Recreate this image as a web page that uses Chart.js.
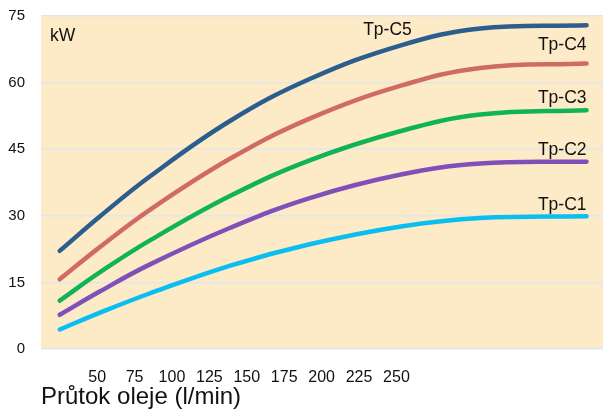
<!DOCTYPE html>
<html>
<head>
<meta charset="utf-8">
<script src="https://cdn.jsdelivr.net/npm/chart.js@4/dist/chart.umd.min.js"></script>
<style>
    html, body { margin: 0; padding: 0; background: #ffffff; }
    #wrap { width: 603px; height: 410px; position: relative; }
</style>
</head>
<body>
<div id="wrap"><canvas id="powerChart" width="603" height="410"></canvas></div>
<script>
    "use strict";

    // oil flow (l/min) at which the curves were read
    var flowRates = [25, 52, 85, 139, 192, 253, 306, 377];

    // power (kW) per cooler type
    var tpC1 = [4.4, 8.2, 12.5, 18.8, 23.6, 27.6, 29.5, 29.9];
    var tpC2 = [7.7, 13.0, 19.0, 27.3, 34.0, 39.3, 41.8, 42.2];
    var tpC3 = [10.9, 17.3, 24.4, 34.5, 42.5, 49.1, 52.8, 53.8];
    var tpC4 = [15.7, 23.0, 31.3, 42.9, 51.9, 59.3, 63.3, 64.3];
    var tpC5 = [22.1, 29.9, 38.8, 51.4, 60.8, 68.4, 72.2, 72.9];

    var seriesNames = ['Tp-C1', 'Tp-C2', 'Tp-C3', 'Tp-C4', 'Tp-C5'];
    var xTickValues = [50, 75, 100, 125, 150, 175, 200, 225, 250];
    var yTickValues = [0, 15, 30, 45, 60, 75];

    var FONT = '"Liberation Sans", Arial, Helvetica, sans-serif';
    var colors = ['#0BBEF0', '#8050B8', '#10B457', '#D06B63', '#2B5D8E'];

    function toPoints(values) {
        return values.map(function (v, i) {
            return { x: flowRates[i], y: v };
        });
    }

    var seriesValues = [tpC1, tpC2, tpC3, tpC4, tpC5];
    var datasets = seriesValues.map(function (values, i) {
        return {
            label: seriesNames[i],
            data: toPoints(values),
            borderColor: colors[i],
            borderWidth: 4.5,
            borderCapStyle: 'round',
            pointRadius: 0,
            tension: 0.4,
            fill: false
        };
    });

    // peach plot background
    var plotBackground = {
        id: 'plotBackground',
        beforeDraw: function (chart) {
            var a = chart.chartArea;
            var ctx = chart.ctx;
            ctx.save();
            ctx.fillStyle = '#FDEBC7';
            ctx.fillRect(a.left, a.top, a.right - a.left, a.bottom - a.top);
            ctx.restore();
        }
    };

    // series names near the curves + unit label
    var curveLabels = {
        id: 'curveLabels',
        afterDatasetsDraw: function (chart) {
            var ctx = chart.ctx;
            var xs = chart.scales.x;
            var ys = chart.scales.y;
            var lift = [11, 11, 12, 18];
            ctx.save();
            ctx.fillStyle = '#111111';
            ctx.font = '17.5px ' + FONT;
            ctx.textBaseline = 'middle';

            for (var i = 0; i < 4; i++) {
                var pts = chart.getDatasetMeta(i).data;
                var last = pts[pts.length - 1];
                ctx.textAlign = 'right';
                ctx.fillText(seriesNames[i], last.x, last.y - lift[i]);
            }
            // Tp-C5 sits above the rising part of its curve
            ctx.textAlign = 'center';
            ctx.fillText(seriesNames[4], xs.getPixelForValue(244), ys.getPixelForValue(71.9));

            ctx.textAlign = 'left';
            ctx.fillText('kW', chart.chartArea.left + 9, ys.getPixelForValue(70.5));
            ctx.restore();
        }
    };

    new Chart(document.getElementById('powerChart').getContext('2d'), {
        type: 'line',
        data: { datasets: datasets },
        plugins: [plotBackground, curveLabels],
        options: {
            responsive: false,
            animation: false,
            layout: { padding: { left: 8, top: 16, right: 0, bottom: 1 } },
            plugins: {
                legend: { display: false },
                tooltip: { enabled: false }
            },
            scales: {
                x: {
                    type: 'linear',
                    min: 12.5,
                    max: 388,
                    afterBuildTicks: function (scale) {
                        scale.ticks = xTickValues.map(function (v) { return { value: v }; });
                    },
                    afterFit: function (scale) {
                        scale.height = 60;
                    },
                    grid: { display: false, drawTicks: false },
                    border: { display: false },
                    ticks: {
                        color: '#111111',
                        font: { family: FONT, size: 16 },
                        padding: 19,
                        maxRotation: 0,
                        autoSkip: false
                    },
                    title: {
                        display: true,
                        text: 'Průtok oleje (l/min)',
                        align: 'start',
                        color: '#111111',
                        font: { family: FONT, size: 24, lineHeight: 1 },
                        padding: { top: 0, bottom: 0 }
                    }
                },
                y: {
                    type: 'linear',
                    min: 0,
                    max: 75,
                    afterBuildTicks: function (scale) {
                        scale.ticks = yTickValues.map(function (v) { return { value: v }; });
                    },
                    afterFit: function (scale) {
                        scale.width = 33;
                        scale.paddingTop = 0;
                        scale.paddingBottom = 0;
                    },
                    grid: { color: '#E1E5EC', lineWidth: 1.5, drawTicks: false },
                    border: { display: false },
                    ticks: {
                        color: '#111111',
                        font: { family: FONT, size: 15 },
                        padding: 16
                    }
                }
            }
        }
    });
</script>
</body>
</html>
